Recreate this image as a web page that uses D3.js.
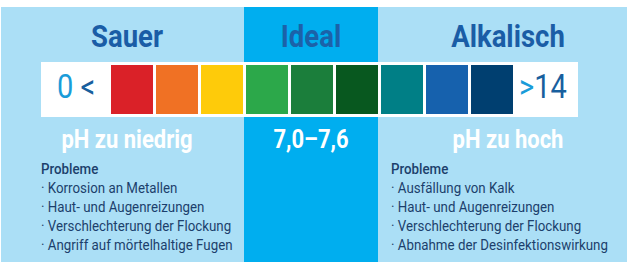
<!DOCTYPE html>
<html>
<head>
<meta charset="utf-8">
<script src="https://cdn.jsdelivr.net/npm/d3@7"></script>
<style>
body { margin: 0; background: #fff; }
svg text { font-family: "Roboto", "Liberation Sans", sans-serif; }
</style>
</head>
<body>
<div class="chart"></div>
<script>
// sections (acid / ideal / alkaline)
var sections = ["Sauer", "Ideal", "Alkalisch"];
var subTitles = ["pH zu niedrig", "7,0–7,6", "pH zu hoch"];
// pH colour swatches left to right
var swatchColors = ["#da2128", "#f07124", "#fecb0a", "#2ca84a", "#1b7e3b", "#08581f", "#007f86", "#1661ad", "#003f70"];
var endLabels = [["0", " <"], [">", "14"]];
var problemsLow = ["Korrosion an Metallen", "Haut- und Augenreizungen", "Verschlechterung der Flockung", "Angriff auf mörtelhaltige Fugen"];
var problemsHigh = ["Ausfällung von Kalk", "Haut- und Augenreizungen", "Verschlechterung der Flockung", "Abnahme der Desinfektionswirkung"];

var W = 627, H = 262;
var svg = d3.select(".chart").append("svg").attr("width", W).attr("height", H);

// column centres
var colX = d3.scaleOrdinal().domain(sections).range([127, 311, 508]);

// backgrounds
svg.append("rect").attr("x", 1).attr("y", 7).attr("width", W - 1).attr("height", H - 7).attr("fill", "#abdff6");
svg.append("rect").attr("x", 244).attr("y", 7).attr("width", 134).attr("height", H - 7).attr("fill", "#00aeef");

// header titles (narrow face faked with a horizontal squeeze)
svg.selectAll("text.head").data(sections).enter().append("text")
  .attr("class", "head")
  .attr("transform", function (d) { return "translate(" + colX(d) + ",47) scale(0.86,1)"; })
  .attr("text-anchor", "middle")
  .attr("font-size", "32px").attr("font-weight", "bold")
  .attr("fill", function (d, i) { return i == 1 ? "#1b62a9" : "#1a5da6"; })
  .text(function (d) { return d; });

// white strip
svg.append("rect").attr("x", 41).attr("y", 62).attr("width", 537).attr("height", 55).attr("fill", "#fff");

var xs = d3.scaleBand().domain(d3.range(swatchColors.length)).range([111, 513]).paddingInner(0.067).paddingOuter(0);
svg.selectAll("rect.sw").data(swatchColors).enter().append("rect")
  .attr("class", "sw")
  .attr("x", function (d, i) { return xs(i); })
  .attr("y", 65)
  .attr("width", xs.bandwidth())
  .attr("height", 49)
  .attr("fill", function (d) { return d; });

// end labels 0 < and >14
var lt = svg.append("text").attr("transform", "translate(57,98) scale(0.88,1)").attr("font-size", "33px");
lt.append("tspan").attr("fill", "#1a9cd9").text(endLabels[0][0]);
lt.append("tspan").attr("fill", "#185f9e").text(endLabels[0][1]);
var rt = svg.append("text").attr("transform", "translate(519,98) scale(0.88,1)").attr("font-size", "33px");
rt.append("tspan").attr("fill", "#1a9cd9").text(endLabels[1][0]);
rt.append("tspan").attr("fill", "#185f9e").text(endLabels[1][1]);

// sub titles
svg.selectAll("text.sub").data(subTitles).enter().append("text")
  .attr("class", "sub")
  .attr("transform", function (d, i) { return "translate(" + colX(sections[i]) + ",148) scale(0.88,1)"; })
  .attr("text-anchor", "middle")
  .attr("font-size", "25px").attr("font-weight", "bold")
  .attr("fill", "#fff")
  .text(function (d) { return d; });

// problem lists
var ly = d3.scaleLinear().domain([0, 4]).range([174, 250]);
function list(x, items) {
  var g = svg.append("g").attr("transform", "translate(" + x + ",0) scale(0.86,1)");
  g.append("text").attr("x", 0).attr("y", ly(0))
    .attr("font-size", "15.5px").attr("font-weight", "500").attr("fill", "#1c3f6c")
    .text("Probleme");
  g.selectAll("text.it").data(items).enter().append("text")
    .attr("class", "it")
    .attr("x", 0)
    .attr("y", function (d, i) { return ly(i + 1); })
    .attr("font-size", "15.5px").attr("fill", "#1c3f6c")
    .text(function (d) { return "· " + d; });
}
list(41, problemsLow);
list(391, problemsHigh);
</script>
</body>
</html>
